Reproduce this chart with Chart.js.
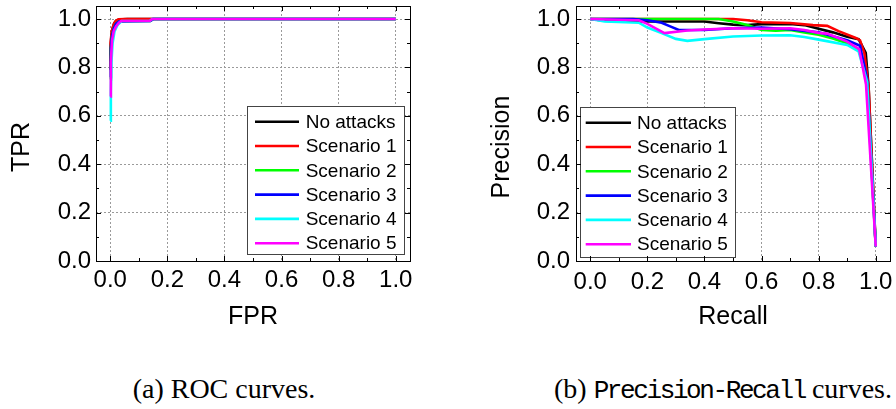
<!DOCTYPE html>
<html>
<head>
<meta charset="utf-8">
<script src="https://cdn.jsdelivr.net/npm/chart.js@4.4.1/dist/chart.umd.min.js"></script>
<style>
body { margin: 0; background: #fff; width: 896px; height: 409px; overflow: hidden; position: relative; }
.box { position: absolute; top: 0; width: 448px; height: 340px; }
canvas { display: block; }
.cap { position: absolute; top: 375px; line-height: 28px; font-family: 'Liberation Serif', serif; font-size: 28px; white-space: nowrap; color: #000; transform: translateX(-50%); }
.tt { font-family: 'Liberation Mono', monospace; font-size: 26px; letter-spacing: -2.4px; }
</style>
</head>
<body>
<div class="box" style="left:0"><canvas id="rocChart" width="448" height="340"></canvas></div>
<div class="box" style="left:448px"><canvas id="prChart" width="448" height="340"></canvas></div>
<div class="cap" style="left:224px">(a) ROC curves.</div>
<div class="cap" style="left:723px">(b) <span class="tt">Precision-Recall</span> curves.</div>
<script>
// etiquetas y colores de las series
var seriesLabels = ['No attacks', 'Scenario 1', 'Scenario 2', 'Scenario 3', 'Scenario 4', 'Scenario 5'];
var seriesColors = ['#000000', '#ff0000', '#00ff00', '#0000ff', '#00ffff', '#ff00ff'];

// marcas de los ejes
var axisTicks = [0, 0.2, 0.4, 0.6, 0.8, 1.0];
var minorTicks = [0.1, 0.3, 0.5, 0.7, 0.9];

// curvas ROC  [FPR, TPR]
var rocNoAttacks = [[0, 0.79], [0.001, 0.88], [0.004, 0.93], [0.008, 0.96], [0.013, 0.98], [0.02, 0.993], [0.03, 0.998], [0.06, 1.0], [1.0, 1.0]];
var rocScenario1 = [[0, 0.80], [0.001, 0.90], [0.005, 0.95], [0.01, 0.97], [0.015, 0.985], [0.022, 0.995], [0.03, 0.999], [0.05, 1.0], [1.0, 1.0]];
var rocScenario2 = [[0, 0.75], [0.002, 0.88], [0.006, 0.93], [0.012, 0.96], [0.02, 0.98], [0.03, 0.99], [0.14, 0.992], [0.15, 1.0], [1.0, 1.0]];
var rocScenario3 = [[0, 0.76], [0.002, 0.88], [0.006, 0.93], [0.012, 0.96], [0.02, 0.98], [0.03, 0.99], [0.14, 0.992], [0.15, 1.0], [1.0, 1.0]];
var rocScenario4 = [[0, 0.58], [0.002, 0.70], [0.004, 0.82], [0.008, 0.90], [0.015, 0.95], [0.025, 0.975], [0.04, 0.992], [0.138, 0.992], [0.147, 1.0], [1.0, 1.0]];
var rocScenario5 = [[0, 0.68], [0.002, 0.82], [0.006, 0.91], [0.012, 0.95], [0.02, 0.97], [0.03, 0.985], [0.038, 0.992], [0.138, 0.992], [0.147, 1.0], [1.0, 1.0]];

// curvas Precision-Recall  [Recall, Precision]
var prNoAttacks = [[0, 1.0], [0.05, 0.993], [0.1, 0.99], [0.2, 0.99], [0.4, 0.99], [0.45, 0.983], [0.5, 0.977], [0.55, 0.975], [0.6, 0.979], [0.7, 0.98], [0.75, 0.975], [0.8, 0.96], [0.85, 0.945], [0.9, 0.927], [0.94, 0.917], [0.965, 0.86], [0.975, 0.72], [1.0, 0.06]];
var prScenario1 = [[0, 1.0], [0.3, 1.0], [0.5, 1.0], [0.55, 0.995], [0.6, 0.987], [0.7, 0.984], [0.78, 0.975], [0.83, 0.972], [0.87, 0.95], [0.93, 0.922], [0.945, 0.912], [0.96, 0.86], [0.975, 0.72], [1.0, 0.06]];
var prScenario2 = [[0, 1.0], [0.45, 1.0], [0.5, 0.99], [0.55, 0.975], [0.6, 0.955], [0.65, 0.952], [0.7, 0.955], [0.75, 0.945], [0.8, 0.935], [0.85, 0.92], [0.9, 0.9], [0.94, 0.875], [0.96, 0.8], [0.97, 0.72], [1.0, 0.06]];
var prScenario3 = [[0, 1.0], [0.15, 1.0], [0.2, 0.995], [0.25, 0.985], [0.28, 0.97], [0.31, 0.955], [0.4, 0.955], [0.5, 0.962], [0.6, 0.965], [0.7, 0.958], [0.8, 0.945], [0.9, 0.912], [0.945, 0.89], [0.97, 0.75], [1.0, 0.06]];
var prScenario4 = [[0, 1.0], [0.05, 0.99], [0.17, 0.985], [0.2, 0.965], [0.25, 0.942], [0.3, 0.918], [0.34, 0.91], [0.4, 0.917], [0.5, 0.928], [0.6, 0.932], [0.7, 0.933], [0.75, 0.926], [0.8, 0.915], [0.9, 0.893], [0.94, 0.866], [0.97, 0.74], [1.0, 0.06]];
var prScenario5 = [[0, 1.0], [0.17, 0.995], [0.2, 0.98], [0.26, 0.942], [0.34, 0.953], [0.4, 0.957], [0.5, 0.962], [0.6, 0.96], [0.7, 0.962], [0.75, 0.955], [0.8, 0.943], [0.83, 0.94], [0.9, 0.907], [0.942, 0.876], [0.966, 0.73], [1.0, 0.06]];

var fuente = '"Liberation Sans", Arial, sans-serif';

// convierte las series en datasets de chart.js
function armarDatasets(series) {
    return series.map(function (pts, i) {
        return {
            label: seriesLabels[i],
            data: pts.map(function (p) { return { x: p[0], y: p[1] }; }),
            borderColor: seriesColors[i],
            backgroundColor: seriesColors[i],
            borderWidth: 2.6,
            pointRadius: 0,
            tension: 0,
            fill: false,
            order: series.length - i // la ultima serie queda arriba
        };
    });
}

// marco, marcas internas, titulos de ejes y leyenda
var marcoPlugin = {
    id: 'marco',
    afterDatasetsDraw: function (chart, args, opts) {
        var ctx = chart.ctx, a = chart.chartArea;
        var bx = a.left + opts.legendLeft, by = a.bottom - opts.legendBottom - opts.legendH;
        ctx.save();
        ctx.fillStyle = '#fff';
        ctx.fillRect(bx, by, opts.legendW, opts.legendH);
        ctx.strokeStyle = '#444';
        ctx.lineWidth = 1;
        ctx.strokeRect(Math.round(bx) + 0.5, Math.round(by) + 0.5, opts.legendW, opts.legendH);
        ctx.font = '19px ' + fuente;
        ctx.textBaseline = 'middle';
        ctx.textAlign = 'left';
        seriesLabels.forEach(function (lbl, i) {
            var yy = by + 15.7 + i * 24.3;
            ctx.strokeStyle = seriesColors[i];
            ctx.lineWidth = 2.6;
            ctx.beginPath();
            ctx.moveTo(bx + opts.lineX0, yy);
            ctx.lineTo(bx + opts.lineX1, yy);
            ctx.stroke();
            ctx.fillStyle = '#000';
            ctx.fillText(lbl, bx + opts.textX, yy + 1);
        });
        ctx.restore();
    },
    afterDraw: function (chart, args, opts) {
        var ctx = chart.ctx, a = chart.chartArea;
        var xs = chart.scales.x, ys = chart.scales.y;
        ctx.save();
        ctx.strokeStyle = '#000';
        ctx.lineWidth = 1;
        ctx.strokeRect(Math.round(a.left) + 0.5, Math.round(a.top) + 0.5, Math.round(a.right - a.left), Math.round(a.bottom - a.top));
        function marca(v, largo) {
            var px = Math.round(xs.getPixelForValue(v)) + 0.5;
            ctx.beginPath();
            ctx.moveTo(px, a.bottom); ctx.lineTo(px, a.bottom - largo);
            ctx.moveTo(px, a.top); ctx.lineTo(px, a.top + largo);
            ctx.stroke();
            var py = Math.round(ys.getPixelForValue(v)) + 0.5;
            ctx.beginPath();
            ctx.moveTo(a.left, py); ctx.lineTo(a.left + largo, py);
            ctx.moveTo(a.right, py); ctx.lineTo(a.right - largo, py);
            ctx.stroke();
        }
        axisTicks.forEach(function (v) { marca(v, 5); });
        minorTicks.forEach(function (v) { marca(v, 3); });

        // titulos de los ejes
        ctx.fillStyle = '#000';
        ctx.font = '25px ' + fuente;
        ctx.textAlign = 'center';
        ctx.textBaseline = 'middle';
        ctx.fillText(opts.xTitle, (a.left + a.right) / 2, a.bottom + 56.5);
        ctx.translate(a.left - 74, (a.top + a.bottom) / 2 + 13.5);
        ctx.rotate(-Math.PI / 2);
        ctx.fillText(opts.yTitle, 0, 0);
        ctx.restore();
    }
};

function crearGrafica(id, series, anchoY, padDer, padTickY, padTickX, marco) {
    return new Chart(document.getElementById(id), {
        type: 'line',
        data: { datasets: armarDatasets(series) },
        plugins: [marcoPlugin],
        options: {
            responsive: false,
            animation: false,
            layout: { padding: { left: 0, right: padDer, top: 6, bottom: 0 } },
            plugins: { legend: { display: false }, tooltip: { enabled: false }, marco: marco },
            scales: {
                x: {
                    type: 'linear', min: -0.05, max: 1.05,
                    afterBuildTicks: function (s) { s.ticks = axisTicks.map(function (v) { return { value: v }; }); },
                    afterFit: function (s) { s.height = 79; s.paddingLeft = 0; s.paddingRight = 0; },
                    ticks: { color: '#000', font: { size: 24, family: fuente }, padding: padTickX, maxRotation: 0, autoSkip: false,
                        callback: function (v) { return Number(v).toFixed(1); } },
                    grid: { color: '#9a9a9a', lineWidth: 1, drawTicks: false },
                    border: { display: false, dash: [2, 2] }
                },
                y: {
                    type: 'linear', min: 0, max: 1.054,
                    afterBuildTicks: function (s) { s.ticks = axisTicks.map(function (v) { return { value: v }; }); },
                    afterFit: function (s) { s.width = anchoY; s.paddingTop = 0; s.paddingBottom = 0; },
                    ticks: { color: '#000', font: { size: 24, family: fuente }, padding: padTickY, autoSkip: false,
                        callback: function (v) { return Number(v).toFixed(1); } },
                    grid: { color: '#9a9a9a', lineWidth: 1, drawTicks: false },
                    border: { display: false, dash: [2, 2] }
                }
            }
        }
    });
}

crearGrafica('rocChart', [rocNoAttacks, rocScenario1, rocScenario2, rocScenario3, rocScenario4, rocScenario5], 96, 38, 5, 5,
    { xTitle: 'FPR', yTitle: 'TPR', legendLeft: 151, legendBottom: 7, legendW: 157, legendH: 148, lineX0: 8, lineX1: 52, textX: 58.7 });

crearGrafica('prChart', [prNoAttacks, prScenario1, prScenario2, prScenario3, prScenario4, prScenario5], 128, 6, 6, 7,
    { xTitle: 'Recall', yTitle: 'Precision', legendLeft: 4, legendBottom: 4, legendW: 155, legendH: 150, lineX0: 5.7, lineX1: 51, textX: 57 });
</script>
</body>
</html>
